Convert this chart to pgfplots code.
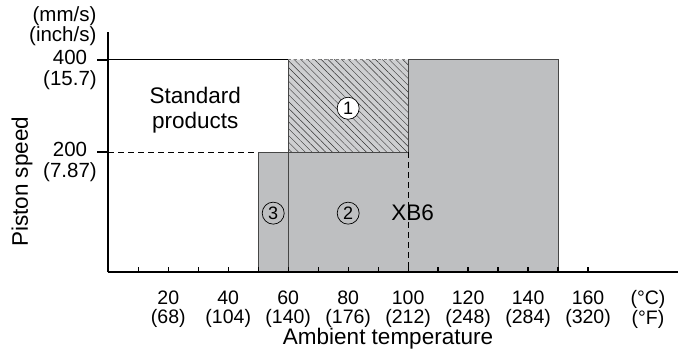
\documentclass[border=0pt]{standalone}
\usepackage{pgfplots}
\pgfplotsset{compat=1.18}
\usepackage{fontspec}
\setmainfont{Liberation Sans}
\usetikzlibrary{patterns.meta}
\definecolor{fillgray}{RGB}{190,191,193}
\definecolor{edgegray}{RGB}{70,70,70}
\newcommand{\tickfont}{\fontsize{20.5bp}{20.5bp}\selectfont}
\newcommand{\xtickfont}{\fontsize{19.5bp}{19.5bp}\selectfont}
\newcommand{\labfont}{\fontsize{22.5bp}{25bp}\selectfont}
\begin{document}
\begin{tikzpicture}[x=1bp,y=1bp]
\useasboundingbox (0,0) rectangle (678,356);
\begin{axis}[
  at={(108.3bp,83.7bp)}, anchor=south west,
  scale only axis, width=569.7bp, height=240.3bp,
  xmin=0, xmax=190, ymin=-60, ymax=460,
  axis lines*=left, axis line style={line width=1.8bp, black},
  axis on top, clip=false,
  /pgf/number format/assume math mode=true,
  tick align=inside, major tick length=5.5bp,
  tick style={line width=1.3bp, black},
  xtick={10,20,...,160},
  xticklabels={{},{20\\(68)},{},{40\\(104)},{},{60\\(140)},{},{80\\(176)},{},{100\\(212)},{},{120\\(248)},{},{140\\(284)},{},{160\\(320)}},
  extra x ticks={180}, extra x tick labels={{(°C)\\(°F)}},
  extra x tick style={major tick length=0pt},
  xticklabel style={align=center, font=\xtickfont, inner sep=1bp, yshift=-17bp},
  ytick={200,400},
  yticklabels={{200\\(7.87)},{400\\(15.7)}},
  ytick style={draw=none},
  yticklabel style={align=center, font=\tickfont, anchor=east, xshift=-8bp, yshift=-10bp},
  xlabel={Ambient temperature},
  xlabel style={at={(axis description cs:0.491,-0.3025)}, anchor=base, font=\labfont},
  ylabel={Piston speed},
  ylabel style={at={(axis description cs:-0.1515,0.376)}, anchor=center, font=\labfont},
]
% gray regions
\addplot[fill=fillgray, draw=none] coordinates {(50,-60) (60,-60) (60,200) (50,200) (50,-60)};
\addplot[fill=fillgray, draw=none] coordinates {(60,-60) (100,-60) (100,200) (60,200) (60,-60)};
\addplot[fill=fillgray, draw=none] coordinates {(100,-60) (150,-60) (150,400) (100,400) (100,-60)};
% hatched region
\addplot[fill=fillgray!75, draw=none] coordinates {(60,200) (100,200) (100,400) (60,400) (60,200)};
\addplot[pattern={Lines[angle=-45,distance=4.8bp,line width=0.45bp]}, pattern color=black!80, draw=none] coordinates {(60,200) (100,200) (100,400) (60,400) (60,200)};
% outlines
\addplot[black, line width=0.8bp] coordinates {(0,400) (60,400)};
\addplot[gray, line width=0.5bp, dashed] coordinates {(60,400) (100,400)};
\addplot[edgegray, line width=0.7bp] coordinates {(60,-60) (60,400)};
\addplot[edgegray, line width=0.7bp] coordinates {(100,200) (100,400) (150,400) (150,-60)};
\addplot[edgegray, line width=0.7bp] coordinates {(50,-60) (50,200) (100,200)};
\addplot[black, line width=0.7bp, dash pattern=on 6bp off 4bp] coordinates {(0,200) (50,200)};
\addplot[black, line width=0.7bp, dash pattern=on 6bp off 4bp] coordinates {(100,200) (100,-60)};
% y ticks (outward)
\draw[line width=1.8bp] (axis cs:0,400) -- ([xshift=-11bp]axis cs:0,400);
\draw[line width=1.8bp] (axis cs:0,200) -- ([xshift=-11bp]axis cs:0,200);
% unit labels
\node[anchor=east, font=\tickfont] at (axis cs:-2.8,495) {(mm/s)};
\node[anchor=east, font=\tickfont] at (axis cs:-2.8,451) {(inch/s)};
% annotations
\node[font=\labfont, align=center] at (axis cs:29,290) {Standard\\products};
\node[circle, draw, line width=0.7bp, fill=white, minimum size=22bp, inner sep=0pt, font=\fontsize{18bp}{18bp}\selectfont] at (axis cs:80,295) {1};
\node[circle, draw, line width=0.7bp, minimum size=22bp, inner sep=0pt, font=\fontsize{18bp}{18bp}\selectfont] at (axis cs:80,68) {2};
\node[circle, draw, line width=0.7bp, minimum size=22bp, inner sep=0pt, font=\fontsize{18bp}{18bp}\selectfont] at (axis cs:55,68) {3};
\node[font=\labfont] at (axis cs:101.5,68) {XB6};
\end{axis}
\end{tikzpicture}
\end{document}
